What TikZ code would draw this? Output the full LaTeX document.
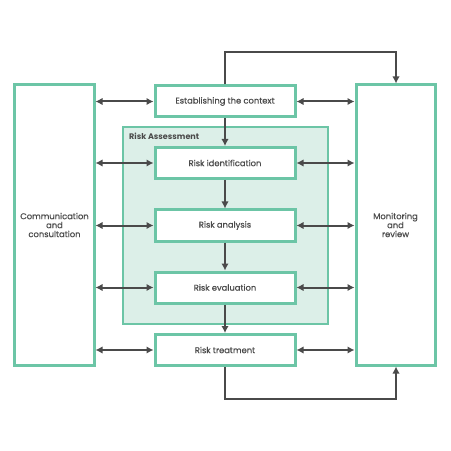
\documentclass[tikz,border=0pt]{standalone}
\usepackage{fontspec}
\setmainfont{Poppins}[FakeBold=0.5]
\newfontfamily\lblfont{Poppins}[UprightFont=*-Bold]
\usetikzlibrary{arrows.meta}
\definecolor{grn}{HTML}{6CC5A6}
\definecolor{grnfill}{HTML}{DCEFE8}
\definecolor{arr}{HTML}{4A4A4A}
\definecolor{txt}{HTML}{4A4A4A}
\begin{document}
\begin{tikzpicture}[x=1bp,y=-1bp,
  box/.style={draw=grn,line width=3bp,fill=white,inner sep=0pt,text=txt,font=\fontsize{8.4}{9}\selectfont,align=center},
  conn/.style={draw=arr,line width=2bp,-{Latex[length=7bp,width=7.5bp]}},
  bconn/.style={draw=arr,line width=2bp,{Latex[length=7bp,width=7.5bp]}-{Latex[length=7bp,width=7.5bp]}}]
\useasboundingbox (0,0) rectangle (451,451);
% risk assessment region
\node[draw=grn,line width=2bp,fill=grnfill,minimum width=205bp,minimum height=197bp,inner sep=0pt] (ra) at (225.5,225.5) {};
\node[anchor=west,text=txt,font=\lblfont\fontsize{8.1}{9}\selectfont,inner sep=0pt] (ralabel) at (129,136.5) {Risk Assessment};
% side boxes
\node[box,minimum width=79bp,minimum height=280bp] (comm) at (54.5,225) {Communication\\and\\consultation};
\node[box,minimum width=79bp,minimum height=280bp] (mon) at (395.5,225) {Monitoring\\and\\review};
% process boxes
\node[box,minimum width=140bp,minimum height=31bp] (ctx) at (225,101.5) {Establishing the context};
\node[box,minimum width=140bp,minimum height=31bp] (ident) at (225,163) {Risk identification};
\node[box,minimum width=140bp,minimum height=31bp] (anal) at (225,225.5) {Risk analysis};
\node[box,minimum width=140bp,minimum height=31bp] (eval) at (225,287.5) {Risk evaluation};
\node[box,minimum width=140bp,minimum height=31bp] (treat) at (225,350) {Risk treatment};
% vertical flow
\draw[conn] (ctx.south) -- (ident.north);
\draw[conn] (ident.south) -- (anal.north);
\draw[conn] (anal.south) -- (eval.north);
\draw[conn] (eval.south) -- (treat.north);
% horizontal double arrows
\foreach \n in {ctx,ident,anal,eval,treat}{
  \draw[bconn] (comm.east |- \n.west) -- (\n.west);
  \draw[bconn] (\n.east) -- (mon.west |- \n.east);
}
% loops
\coordinate (tl) at (225,52);
\coordinate (tr) at (396,52);
\coordinate (bl) at (225,399);
\coordinate (br) at (396,399);
\draw[conn] (ctx.north) -- (tl) -- (tr) -- (mon.north -| tr);
\draw[conn] (treat.south) -- (bl) -- (br) -- (mon.south -| br);
\end{tikzpicture}
\end{document}
